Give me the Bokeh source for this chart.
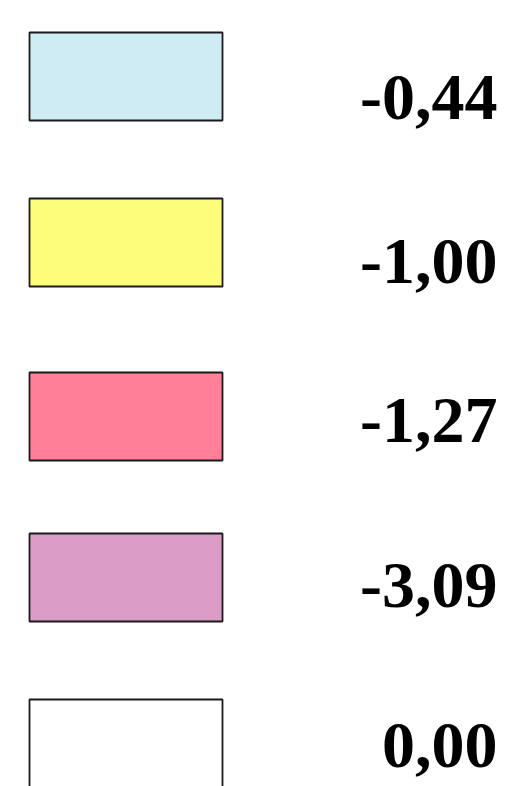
from bokeh.plotting import figure
from bokeh.models import Range1d, ColumnDataSource
from bokeh.core.properties import value
from bokeh.embed import file_html
from bokeh.resources import INLINE

# data
labels = ["-0,44", "-1,00", "-1,27", "-3,09", "0,00"]
fill_colors = ["#CFECF4", "#FDFD7B", "#FE7F97", "#DC9CC8", "#FFFFFF"]

# layout (canvas pixels)
W, H = 528, 786
box_left, box_right = 29, 222
box_tops = [32, 198, 372, 533, 699]
box_h = 88
text_x = 497
text_mid = [97, 261, 420, 585, 745]

src = ColumnDataSource(dict(
    left=[box_left] * len(labels),
    right=[box_right] * len(labels),
    top=box_tops,
    bottom=[t + box_h for t in box_tops],
    color=fill_colors,
    tx=[text_x] * len(labels),
    ty=text_mid,
    label=labels,
))

p = figure(width=W, height=H, output_backend="svg", toolbar_location=None,
           x_range=Range1d(0, W), y_range=Range1d(H, 0),
           min_border=0, outline_line_color=None)
p.axis.visible = False
p.grid.visible = False
p.background_fill_color = "white"
p.border_fill_color = "white"

p.quad(left="left", right="right", top="top", bottom="bottom", source=src,
       fill_color="color", line_color="#1a1a1a", line_width=1.8)
p.text(x="tx", y="ty", text="label", source=src,
       text_font=value("Liberation Serif"), text_font_style="bold",
       text_font_size="66px", text_align="right", text_baseline="middle",
       text_color="black")

open("out.html", "w").write(file_html(p, INLINE))
